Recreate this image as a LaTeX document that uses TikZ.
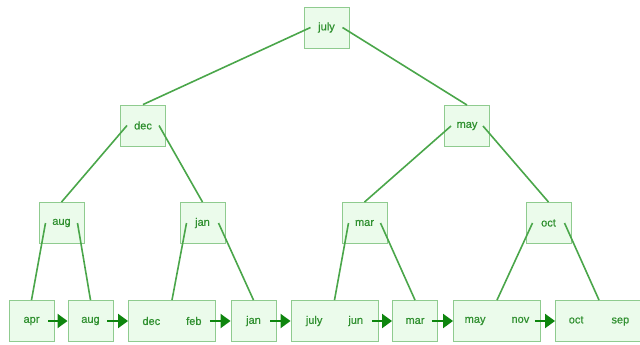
\documentclass[tikz,border=0pt]{standalone}
\usepackage{fontspec}
\setmainfont{Liberation Sans}
\newfontfamily\keyfont[FakeBold=0.6]{Liberation Sans}
\usetikzlibrary{arrows.meta}
\definecolor{boxfill}{HTML}{EBFBEB}
\definecolor{boxdraw}{HTML}{8FCB8F}
\definecolor{txtgreen}{HTML}{309030}
\definecolor{edgegreen}{HTML}{4AA64A}
\definecolor{arrowgreen}{HTML}{0E850E}
\begin{document}
\begin{tikzpicture}[x=1pt,y=-1pt,
  keybox/.style={draw=boxdraw,fill=boxfill,line width=0.9pt,text=txtgreen,
    font=\keyfont\fontsize{11}{13}\selectfont,inner sep=0pt,minimum height=41pt,minimum width=45pt},
  wide/.style={keybox,minimum width=87pt},
  treeedge/.style={draw=edgegreen,line width=1.6pt},
  nextarrow/.style={draw=arrowgreen,line width=2pt,-{Triangle[length=10pt,width=14pt]}}]
\useasboundingbox (0,0) rectangle (640,345);
% internal nodes
\node[keybox] (root) at (326.5,27.5) {july};
\node[keybox] (dec) at (143,125.5) {dec};
\node[keybox] (may) at (467,126) {may};
\node[keybox] (aug) at (61.5,223) {aug};
\node[keybox] (jan) at (202.5,223) {jan};
\node[keybox] (mar) at (364.5,223) {mar};
\node[keybox] (oct) at (548.5,223) {oct};
% leaves
\node[keybox] (lapr) at (31.5,321) {apr};
\node[keybox] (laug) at (90.5,321) {aug};
\node[wide] (ldec) at (172,321) {dec\hspace{26pt}feb};
\node[keybox] (ljan) at (253.5,321) {jan};
\node[wide] (ljul) at (334.5,321) {july\hspace{26pt}jun};
\node[keybox] (lmar) at (415,321) {mar};
\node[wide] (lmay) at (497,321) {may\hspace{26pt}nov};
\node[wide] (loct) at (599,321) {oct\hspace{28pt}sep};
% pointer coordinates
\foreach \n in {root,dec,may,aug,jan,mar,oct}{
  \coordinate (\n L) at ([xshift=-16pt]\n.center);
  \coordinate (\n R) at ([xshift=16pt]\n.center);
}
% tree edges
\draw[treeedge] (rootL) -- (dec.north);
\draw[treeedge] (rootR) -- (may.north);
\draw[treeedge] (decL) -- (aug.north);
\draw[treeedge] (decR) -- (jan.north);
\draw[treeedge] (mayL) -- (mar.north);
\draw[treeedge] (mayR) -- (oct.north);
\draw[treeedge] (augL) -- (lapr.north);
\draw[treeedge] (augR) -- (laug.north);
\draw[treeedge] (janL) -- (ldec.north);
\draw[treeedge] (janR) -- (ljan.north);
\draw[treeedge] (marL) -- (ljul.north);
\draw[treeedge] (marR) -- (lmar.north);
\draw[treeedge] (octL) -- (lmay.north);
\draw[treeedge] (octR) -- (loct.north);
% leaf links
\draw[nextarrow] ([xshift=-6pt]lapr.east) -- (laug.west);
\draw[nextarrow] ([xshift=-6pt]laug.east) -- (ldec.west);
\draw[nextarrow] ([xshift=-6pt]ldec.east) -- (ljan.west);
\draw[nextarrow] ([xshift=-6pt]ljan.east) -- (ljul.west);
\draw[nextarrow] ([xshift=-6pt]ljul.east) -- (lmar.west);
\draw[nextarrow] ([xshift=-6pt]lmar.east) -- (lmay.west);
\draw[nextarrow] ([xshift=-6pt]lmay.east) -- (loct.west);
\end{tikzpicture}
\end{document}
